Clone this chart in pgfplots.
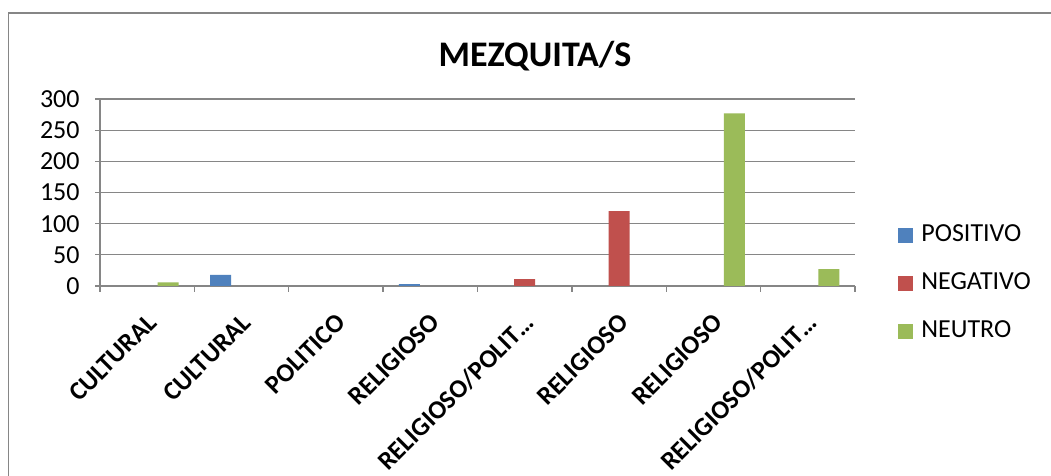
\documentclass[border=0pt]{standalone}
\usepackage{pgfplots}
\pgfplotsset{compat=1.18}
\usepackage{fontspec}
\setmainfont{Carlito}
\newlength\px
\px=0.5pt
\definecolor{cpos}{HTML}{4F81BD}
\definecolor{cneg}{HTML}{C0504D}
\definecolor{cneu}{HTML}{9BBB59}
\definecolor{cgrid}{HTML}{868686}
\begin{document}
\begin{tikzpicture}
\path[use as bounding box, clip] (0,0) rectangle (1051\px,476\px);
\fill[white] (0,0) rectangle (1051\px,476\px);
\draw[cgrid, line width=1.6\px] (8.5\px,-20\px) rectangle (1080\px,463\px);
\begin{axis}[
  at={(100\px,190\px)}, anchor=south west,
  scale only axis, width=755\px, height=187\px,
  xmin=-0.5, xmax=7.5, ymin=0, ymax=300,
  ybar=0pt, bar width=21\px,
  axis x line=bottom, axis y line=left,
  axis line style={-, cgrid, line width=1.3\px},
  ymajorgrids, grid style={cgrid, line width=1.3\px},
  ytick={0,50,...,300},
  tick align=outside, major tick length=5\px,
  tick style={cgrid, line width=1.3\px},
  xtick={0,...,7},
  xtick style={draw=none},
  xticklabels={CULTURAL,CULTURAL,POLITICO,RELIGIOSO,RELIGIOSO/POLIT…,RELIGIOSO,RELIGIOSO,RELIGIOSO/POLIT…},
  extra x ticks={-0.5,0.5,...,7.5},
  extra x tick labels={},
  extra x tick style={grid=none, major tick length=6\px, xtick style={draw=cgrid}},
  xticklabel style={rotate=45, anchor=east, inner sep=0pt, font=\fontsize{26\px}{31\px}\selectfont\bfseries, xshift=-15.5\px, yshift=-22.7\px},
  yticklabel style={font=\fontsize{26\px}{31\px}\selectfont, inner sep=0pt, xshift=-15\px},
  /pgf/number format/assume math mode=true,
  legend style={draw=none, fill=none, at={(1.049,0.016)}, anchor=west,
    font=\fontsize{26\px}{31\px}\selectfont, row sep=25\px,
    legend cell align=left,
    nodes={inner sep=0pt, text height=18\px, text depth=5\px},
    /tikz/every odd column/.append style={column sep=8\px}},
  legend image code/.code={\fill[#1,draw=none] (0\px,-7.5\px) rectangle (15\px,7.5\px);},
]
\addplot[fill=cpos, draw=none] coordinates {(1,18) (3,3)};
\addplot[fill=cneg, draw=none] coordinates {(4,11) (5,120)};
\addplot[fill=cneu, draw=none] coordinates {(0,6) (6,277) (7,27)};
\legend{POSITIVO,NEGATIVO,NEUTRO}
\end{axis}
\node[anchor=base, font=\fontsize{36\px}{43\px}\selectfont\bfseries] at (535\px,409\px) {MEZQUITA/S};
\end{tikzpicture}
\end{document}
